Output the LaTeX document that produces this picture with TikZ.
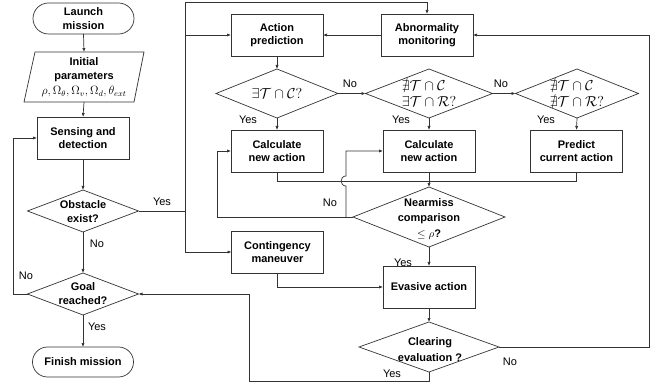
\documentclass[tikz,border=0pt]{standalone}
\usepackage{amssymb}
\usepackage{fontspec}
\setmainfont{Liberation Sans}
\usetikzlibrary{shapes.geometric,shapes.misc,arrows.meta}
\colorlet{lc}{black!80}
\begin{document}
\begin{tikzpicture}[x=1pt,y=-1pt,
  every node/.style={outer sep=0pt},
  box/.style={draw=lc, line width=0.7pt, minimum width=92pt, minimum height=42pt, inner sep=1pt, align=center, font=\bfseries\fontsize{11}{13.5}\selectfont},
  term/.style={rounded rectangle, draw=lc, line width=0.7pt, minimum width=103pt, minimum height=31pt, inner sep=1pt, align=center, font=\bfseries\fontsize{11}{13.5}\selectfont},
  dia/.style={diamond, draw=lc, line width=0.7pt, inner sep=0pt},
  txt/.style={inner sep=0pt, align=center, font=\bfseries\fontsize{11}{14}\selectfont},
  mtxt/.style={inner sep=0pt, align=left, font=\fontsize{14}{15.5}\selectfont},
  lab/.style={inner sep=0pt, font=\fontsize{11}{13}\selectfont},
  conn/.style={draw=lc, line width=0.7pt},
  arr/.style={conn, -{Latex[length=4pt,width=3.2pt]}}
]
\useasboundingbox[fill=white] (0,0) rectangle (661,387);

% left column
\node[term] (launch) at (83.5,18.5) {Launch\\mission};
\node[inner sep=0pt, minimum width=100pt, minimum height=50pt, align=center, font=\bfseries\fontsize{11}{14.5}\selectfont] (init) at (84,77) {Initial\\parameters\\{\mdseries\fontsize{12}{14.5}\selectfont $\rho, \Omega_{\theta}, \Omega_{v}, \Omega_{d}, \theta_{ext}$}};
\draw[conn] (35,52) -- (144,52) -- (134,102) -- (24,102) -- cycle;
\node[box] (sense) at (83,138) {Sensing and\\detection};
\node[dia, minimum width=111pt, minimum height=42pt] (obs) at (83,211) {};
\node[txt] (obst) at (83,212) {Obstacle\\exist?};
\node[dia, minimum width=111pt, minimum height=42pt] (goal) at (83,294) {};
\node[txt] (goalt) at (83,294) {Goal\\reached?};
\node[term, minimum height=30pt] (finish) at (83,362) {Finish mission};

% top row
\node[box] (act) at (277,35) {Action\\prediction};
\node[box] (abn) at (427,35) {Abnormality\\monitoring};

% decision row
\node[dia, minimum width=122pt, minimum height=49pt] (d1) at (277,93.5) {};
\node[mtxt] (d1t) at (277,93.5) {$\exists\mathcal{T}\cap\mathcal{C}?$};
\node[dia, minimum width=127pt, minimum height=49pt] (d2) at (429,93.5) {};
\node[mtxt] (d2t) at (429,93.5) {$\nexists\mathcal{T}\cap\mathcal{C}$\\$\exists\mathcal{T}\cap\mathcal{R}?$};
\node[dia, minimum width=123pt, minimum height=49pt] (d3) at (577,93.5) {};
\node[mtxt] (d3t) at (577,93.5) {$\nexists\mathcal{T}\cap\mathcal{C}$\\$\nexists\mathcal{T}\cap\mathcal{R}?$};

% action row
\node[box] (calc1) at (277,151) {Calculate\\new action};
\node[box] (calc2) at (429,151) {Calculate\\new action};
\node[box] (pred) at (576.5,151) {Predict\\current action};

% lower part
\node[dia, minimum width=152pt, minimum height=60pt] (near) at (429,217) {};
\node[txt, font=\bfseries\fontsize{11}{15.5}\selectfont] (neart) at (429,219) {Nearmiss\\comparison\\{\mdseries$\leq\rho$}?};
\node[box] (cont) at (277.5,252) {Contingency\\maneuver};
\node[box] (eva) at (429,287) {Evasive action};
\node[dia, minimum width=140pt, minimum height=50pt] (clr) at (429,347) {};
\node[txt, font=\bfseries\fontsize{11}{16}\selectfont] (clrt) at (430,350) {Clearing\\evaluation ?};

% helper coordinates
\coordinate (jY) at (185,211);
\coordinate (jT) at (185,2.5);
\coordinate (jL) at (13,294);
\coordinate (jM) at (429,181);
\coordinate (jN) at (346,217);
\coordinate (jB) at (249,381);
\coordinate (jR) at (649,35);

% connectors
\draw[arr] (launch.south) -- (init.north);
\draw[arr] (init.south) -- (sense.north);
\draw[arr] (sense.south) -- (obs.north);
\draw[arr] (obs.south) -- (goal.north);
\draw[arr] (goal.south) -- (finish.north);
\draw[arr] (goal.west) -- (jL) |- (sense.west);
\draw[conn] (obs.east) -- (jY);
\draw[arr] (jY) -- (jT) -| (abn.north);
\draw[arr] (jY) |- (cont.west);
\draw[arr] (jY |- act.west) -- (act.west);
\draw[arr] (abn.west) -- (act.east);
\draw[arr] (act.south) -- (d1.north);
\draw[arr] (d1.east) -- (d2.west);
\draw[arr] (d2.east) -- (d3.west);
\draw[arr] (d1.south) -- (calc1.north);
\draw[arr] (d2.south) -- (calc2.north);
\draw[arr] (d3.south) -- (pred.north);
\draw[conn] (calc1.south) |- (jM);
\draw[conn] (pred.south) |- (jM);
\draw[arr] (calc2.south) -- (near.north);
\draw[arr] (near.west) -| ([xshift=-14pt]calc1.west) -- (calc1.west);
\draw[arr] (jN) -- (346,186) .. controls (339.5,186) and (339.5,176) .. (346,176) -- (jN |- calc2.west) -- (calc2.west);
\draw[arr] (near.south) -- (eva.north);
\draw[arr] (cont.south) |- (eva.west);
\draw[arr] (eva.south) -- (clr.north);
\draw[arr] (clr.south) |- (jB) |- (goal.east);
\draw[arr] (clr.east) -| (jR) -- (abn.east);

% labels
\node[lab] (l1) at (162,202) {Yes};
\node[lab] (l2) at (97,244) {No};
\node[lab] (l3) at (26,276) {No};
\node[lab] (l4) at (97,327) {Yes};
\node[lab] (l5) at (350,84) {No};
\node[lab] (l6) at (501,84) {No};
\node[lab] (l7) at (248,120) {Yes};
\node[lab] (l8) at (401,120) {Yes};
\node[lab] (l9) at (546,120) {Yes};
\node[lab] (l10) at (330,203) {No};
\node[lab] (l11) at (403,263) {Yes};
\node[lab] (l12) at (392,374) {Yes};
\node[lab] (l13) at (510,362) {No};
\end{tikzpicture}
\end{document}
